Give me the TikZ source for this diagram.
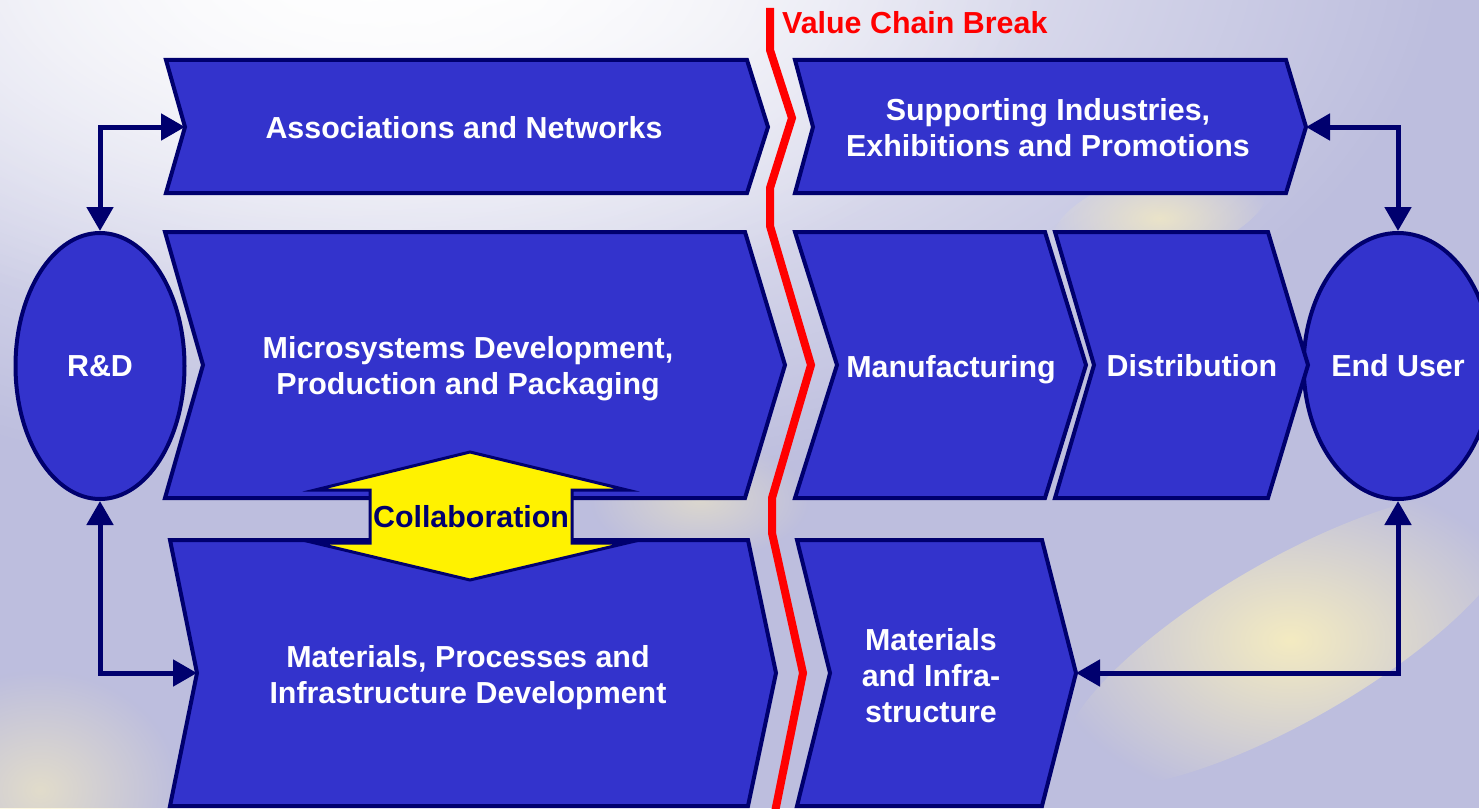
\documentclass[tikz,border=0pt]{standalone}
\usepackage{fontspec}
\setmainfont{Liberation Sans}
\usetikzlibrary{arrows.meta,fadings,shapes.geometric}
\definecolor{boxblue}{RGB}{51,51,204}
\definecolor{navy}{RGB}{0,0,110}
\definecolor{lav}{RGB}{189,190,222}
\definecolor{streak}{RGB}{250,240,190}
\tikzfading[name=softglow, inner color=transparent!0, outer color=transparent!100]
\begin{document}
\begin{tikzpicture}[x=1pt,y=-1pt,
  chev/.style={fill=boxblue,draw=navy,line width=4pt,line join=miter},
  lbl/.style={text=white,font=\fontsize{30.4}{36}\selectfont\bfseries,align=center,inner sep=0pt},
  oval/.style={ellipse,fill=boxblue,draw=navy,line width=4pt,minimum width=169pt,minimum height=266pt,inner sep=0pt,text=white,font=\fontsize{30.4}{36}\selectfont\bfseries},
  link/.style={draw=navy,line width=5pt,{Triangle[length=24pt,width=26pt]}-{Triangle[length=24pt,width=26pt]}},
  collab/.style={fill=yellow,draw=navy,line width=3pt,line join=miter},
  redline/.style={draw=red,line width=8pt,line join=miter},
  glow/.style={path fading=softglow},
]
% background
\useasboundingbox (0,0) rectangle (1479,808);
\fill[lav] (0,0) rectangle (1479,808);
\fill[white,glow] (450,-60) ellipse (1000 and 560);
\fill[white,glow] (350,-40) ellipse (700 and 380);
\fill[streak,opacity=0.9,glow,rotate around={30:(1290,640)}] (1290,640) ellipse (260 and 80);
\fill[streak,opacity=0.7,glow,rotate around={15:(1160,215)}] (1160,215) ellipse (110 and 45);
\fill[streak,opacity=0.6,glow] (40,790) ellipse (140 and 120);
\fill[streak,opacity=0.5,glow] (700,500) ellipse (110 and 60);

% named points for connectors
\coordinate (assocnotch) at (185,127);
\coordinate (supptip) at (1306,127);
\coordinate (matnotch) at (197,673);
\coordinate (mitip) at (1076,673);

% ovals
\node[oval] (rd) at (100,366) {R\&D};
\node[oval] (eu) at (1398,366) {End User};

% connectors
\draw[link] (rd.north) |- (assocnotch);
\draw[link] (rd.south) |- (matnotch);
\draw[link] (eu.north) |- (supptip);
\draw[link] (eu.south) |- (mitip);

% chevrons
\draw[chev] (166,60) -- (747,60) -- (768,127) -- (747,193) -- (166,193) -- (185,127) -- cycle;
\draw[chev] (795,60) -- (1286,60) -- (1306,127) -- (1286,193) -- (795,193) -- (813,127) -- cycle;
\draw[chev] (165,232) -- (745,232) -- (785,365) -- (745,498) -- (165,498) -- (203,365) -- cycle;
\draw[chev] (795,232) -- (1045,232) -- (1086,365) -- (1045,498) -- (795,498) -- (837,365) -- cycle;
\draw[chev] (1055,232) -- (1268,232) -- (1308,365) -- (1268,498) -- (1055,498) -- (1094,365) -- cycle;
\draw[chev] (170,540) -- (748,540) -- (776,673) -- (748,806) -- (170,806) -- (197,673) -- cycle;
\draw[chev] (797,540) -- (1042,540) -- (1076,673) -- (1042,806) -- (797,806) -- (830,673) -- cycle;

% collaboration double arrow
\draw[collab] (470,452) -- (627,490) -- (572,490) -- (572,543) -- (627,543) -- (470,580)
  -- (315,543) -- (370,543) -- (370,490) -- (315,490) -- cycle;

% value chain break
\draw[redline] (770,8) -- (770,50) -- (792,118) -- (770,188) -- (770,226) -- (811,365) -- (772,498)
  -- (772,533) -- (803,673) -- (775,812);
\node[anchor=base west,inner sep=0pt,text=red,font=\fontsize{30.4}{36}\selectfont\bfseries] (vcb) at (782,34) {Value Chain Break};

% labels
\node[lbl] (assoc) at (464,128) {Associations and Networks};
\node[lbl] (supp) at (1048,128) {Supporting Industries,\\Exhibitions and Promotions};
\node[lbl] (micro) at (468,369) {Microsystems Development,\\Production and Packaging};
\node[lbl] (manuf) at (951,370) {Manufacturing};
\node[lbl] (distr) at (1192,366) {Distribution};
\node[lbl] (mat) at (468,678) {Materials, Processes and\\Infrastructure Development};
\node[lbl] (matinf) at (931,676) {Materials\\and Infra-\\structure};
\node[inner sep=0pt,text=navy,font=\fontsize{30.4}{36}\selectfont\bfseries] (coll) at (471,517) {Collaboration};
\end{tikzpicture}
\end{document}
